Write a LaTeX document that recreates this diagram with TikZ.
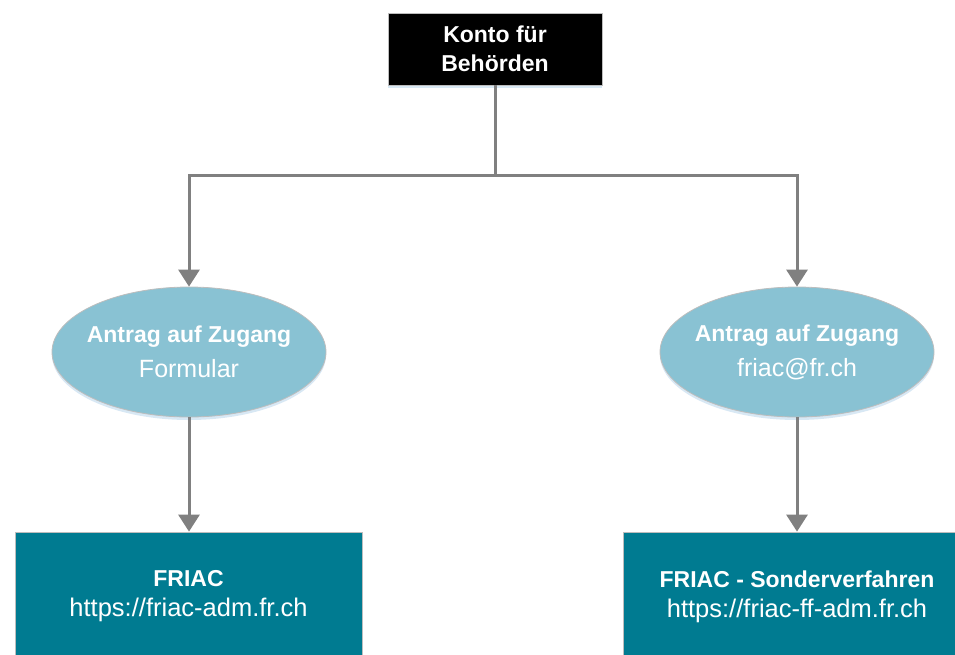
\documentclass[tikz,border=0pt]{standalone}
\usepackage{fontspec}
\setmainfont{Liberation Sans}
\usetikzlibrary{shapes.geometric,arrows.meta,shadows}
\definecolor{ellfill}{HTML}{89C2D3}
\definecolor{boxfill}{HTML}{007B91}
\definecolor{linkgray}{HTML}{808080}
\definecolor{bordergray}{HTML}{BDBDBD}
\definecolor{shadowblue}{HTML}{A9CBE6}
\tikzset{
  soft/.style={drop shadow={shadow xshift=0pt,shadow yshift=-3pt,fill=shadowblue,opacity=0.45}},
  topbox/.style={rectangle,fill=black,draw=bordergray,line width=0.8pt,text=white,
    minimum width=214pt,minimum height=72pt,inner sep=0pt,align=center,soft,
    font=\fontsize{23}{29}\selectfont\bfseries},
  reqell/.style={ellipse,fill=ellfill,draw=bordergray,line width=0.8pt,text=white,
    minimum width=274pt,minimum height=130pt,inner sep=-12pt,align=center,soft,
    font=\fontsize{25}{35}\selectfont},
  sysbox/.style={rectangle,fill=boxfill,draw=bordergray,line width=0.8pt,text=white,
    minimum width=347pt,minimum height=129pt,inner sep=0pt,align=center,soft,
    font=\fontsize{25.5}{30}\selectfont},
  link/.style={draw=linkgray,line width=3pt},
  arrowlink/.style={link,-{Triangle[length=17pt,width=21pt]}}
}
\newcommand{\bl}[1]{{\fontsize{23}{29}\selectfont\bfseries #1}}
\begin{document}
\begin{tikzpicture}[x=1pt,y=-1pt]
\useasboundingbox (0,0) rectangle (955,654);
\clip (0,0) rectangle (955,654);
\node[topbox] (top) at (495,49) {Konto für\\Behörden};
\node[reqell] (e1) at (189,352) {\bl{Antrag auf Zugang}\\Formular};
\node[reqell] (e2) at (797,352) {\bl{Antrag auf Zugang}\\friac@fr.ch};
\node[sysbox] (b1) at (188.5,596.5) {\bl{FRIAC}\\https://friac-adm.fr.ch};
\node[sysbox] (b2) at (797,596.5) {\bl{FRIAC - Sonderverfahren}\\https://friac-ff-adm.fr.ch};
\coordinate (j) at (495,175);
\draw[link] (top) -- (j);
\draw[arrowlink] (j) -| (e1.north);
\draw[arrowlink] (j) -| (e2.north);
\draw[arrowlink] (e1) -- (b1.north -| e1.south);
\draw[arrowlink] (e2) -- (b2);
\end{tikzpicture}
\end{document}
